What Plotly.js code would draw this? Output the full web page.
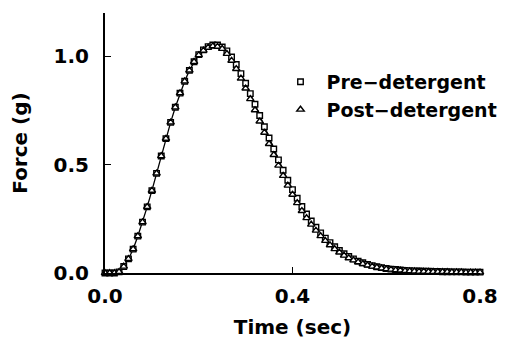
<!DOCTYPE html>
<html>
<head>
<meta charset="utf-8">
<script src="https://cdn.plot.ly/plotly-3.0.1.min.js"></script>
<style>html,body{margin:0;padding:0;background:#fff;}#chart{width:505px;height:343px;}</style>
</head>
<body>
<div id="chart"></div>
<script>
// Time (s), sampled every 0.01 s from 0.00 to 0.80
const time = [0.00,0.01,0.02,0.03,0.04,0.05,0.06,0.07,0.08,0.09,
  0.10,0.11,0.12,0.13,0.14,0.15,0.16,0.17,0.18,0.19,
  0.20,0.21,0.22,0.23,0.24,0.25,0.26,0.27,0.28,0.29,
  0.30,0.31,0.32,0.33,0.34,0.35,0.36,0.37,0.38,0.39,
  0.40,0.41,0.42,0.43,0.44,0.45,0.46,0.47,0.48,0.49,
  0.50,0.51,0.52,0.53,0.54,0.55,0.56,0.57,0.58,0.59,
  0.60,0.61,0.62,0.63,0.64,0.65,0.66,0.67,0.68,0.69,
  0.70,0.71,0.72,0.73,0.74,0.75,0.76,0.77,0.78,0.79,0.80];

const preDetergent = [0,0,0,0.005,0.03,0.065,0.11,0.17,0.235,0.305,
  0.38,0.46,0.54,0.62,0.695,0.765,0.83,0.885,0.935,0.975,
  1.008,1.03,1.045,1.052,1.052,1.043,1.025,0.997,0.962,0.92,
  0.876,0.828,0.779,0.727,0.675,0.623,0.572,0.522,0.474,0.428,
  0.385,0.345,0.307,0.272,0.24,0.211,0.185,0.161,0.14,0.121,
  0.104,0.089,0.076,0.065,0.055,0.047,0.04,0.034,0.029,0.025,
  0.021,0.018,0.016,0.014,0.012,0.011,0.01,0.009,0.008,0.008,
  0.007,0.007,0.006,0.006,0.005,0.005,0.005,0.004,0.004,0.004,0.004];

const postDetergent = [0,0,0,0.005,0.03,0.065,0.11,0.17,0.235,0.305,
  0.38,0.46,0.54,0.62,0.695,0.765,0.83,0.885,0.935,0.975,
  1.006,1.027,1.041,1.047,1.045,1.035,1.012,0.98,0.942,0.898,
  0.852,0.803,0.752,0.7,0.648,0.596,0.545,0.496,0.449,0.404,
  0.362,0.323,0.287,0.254,0.224,0.196,0.171,0.149,0.129,0.111,
  0.095,0.081,0.069,0.059,0.05,0.042,0.036,0.03,0.026,0.022,
  0.018,0.016,0.013,0.012,0.01,0.009,0.008,0.007,0.007,0.006,
  0.006,0.005,0.005,0.005,0.004,0.004,0.004,0.003,0.003,0.003,0.003];

const xTicks = [0, 0.4, 0.8];
const yTicks = [0, 0.5, 1.0];
const seriesNames = ['Pre\u2212detergent', 'Post\u2212detergent'];

const font = 'DejaVu Sans, Arial, sans-serif';
const f20 = {family: font, size: 20, color: '#000', weight: 'bold'};
const f19 = {family: font, size: 19, color: '#000', weight: 'bold'};

const traces = [
  {
    x: time, y: preDetergent, name: 'fit', showlegend: false,
    type: 'scatter', mode: 'lines', cliponaxis: false,
    line: {color: '#000', width: 1.3}
  },
  {
    x: time, y: preDetergent, name: seriesNames[0],
    type: 'scatter', mode: 'markers', cliponaxis: false,
    marker: {symbol: 'square', size: 5.5, color: '#fff', line: {color: '#000', width: 1.4}}
  },
  {
    x: time, y: postDetergent, name: seriesNames[1],
    type: 'scatter', mode: 'markers', cliponaxis: false,
    marker: {symbol: 'triangle-up', size: 6.5, color: '#fff', line: {color: '#000', width: 1.4}}
  }
];

const layout = {
  width: 505, height: 343,
  margin: {l: 105, r: 25, t: 13, b: 70, autoexpand: false},
  paper_bgcolor: '#fff', plot_bgcolor: '#fff',
  font: f20,
  showlegend: true,
  legend: {
    x: 0.452, y: 0.808, xanchor: 'left', yanchor: 'top',
    bgcolor: 'rgba(0,0,0,0)', font: f19,
    tracegroupgap: 0, itemwidth: 42
  },
  xaxis: {
    range: [0, 0.8], tickvals: xTicks, tickformat: '.1f',
    showgrid: false, zeroline: false, showline: true, linecolor: '#000', linewidth: 2,
    ticks: 'inside', ticklen: 6, tickwidth: 1.5, tickcolor: '#000',
    ticklabelstandoff: 4,
    tickfont: f20,
    title: {text: 'Time (sec)', font: f20, standoff: 13}
  },
  yaxis: {
    range: [0, 1.2], tickvals: yTicks, tickformat: '.1f',
    showgrid: false, zeroline: false, showline: true, linecolor: '#000', linewidth: 2,
    ticks: 'inside', ticklen: 6, tickwidth: 1.5, tickcolor: '#000',
    ticklabelstandoff: 10,
    tickfont: f20,
    title: {text: 'Force (g)', font: f20, standoff: 21}
  }
};

Plotly.newPlot('chart', traces, layout, {displayModeBar: false, staticPlot: true});
</script>
</body>
</html>
